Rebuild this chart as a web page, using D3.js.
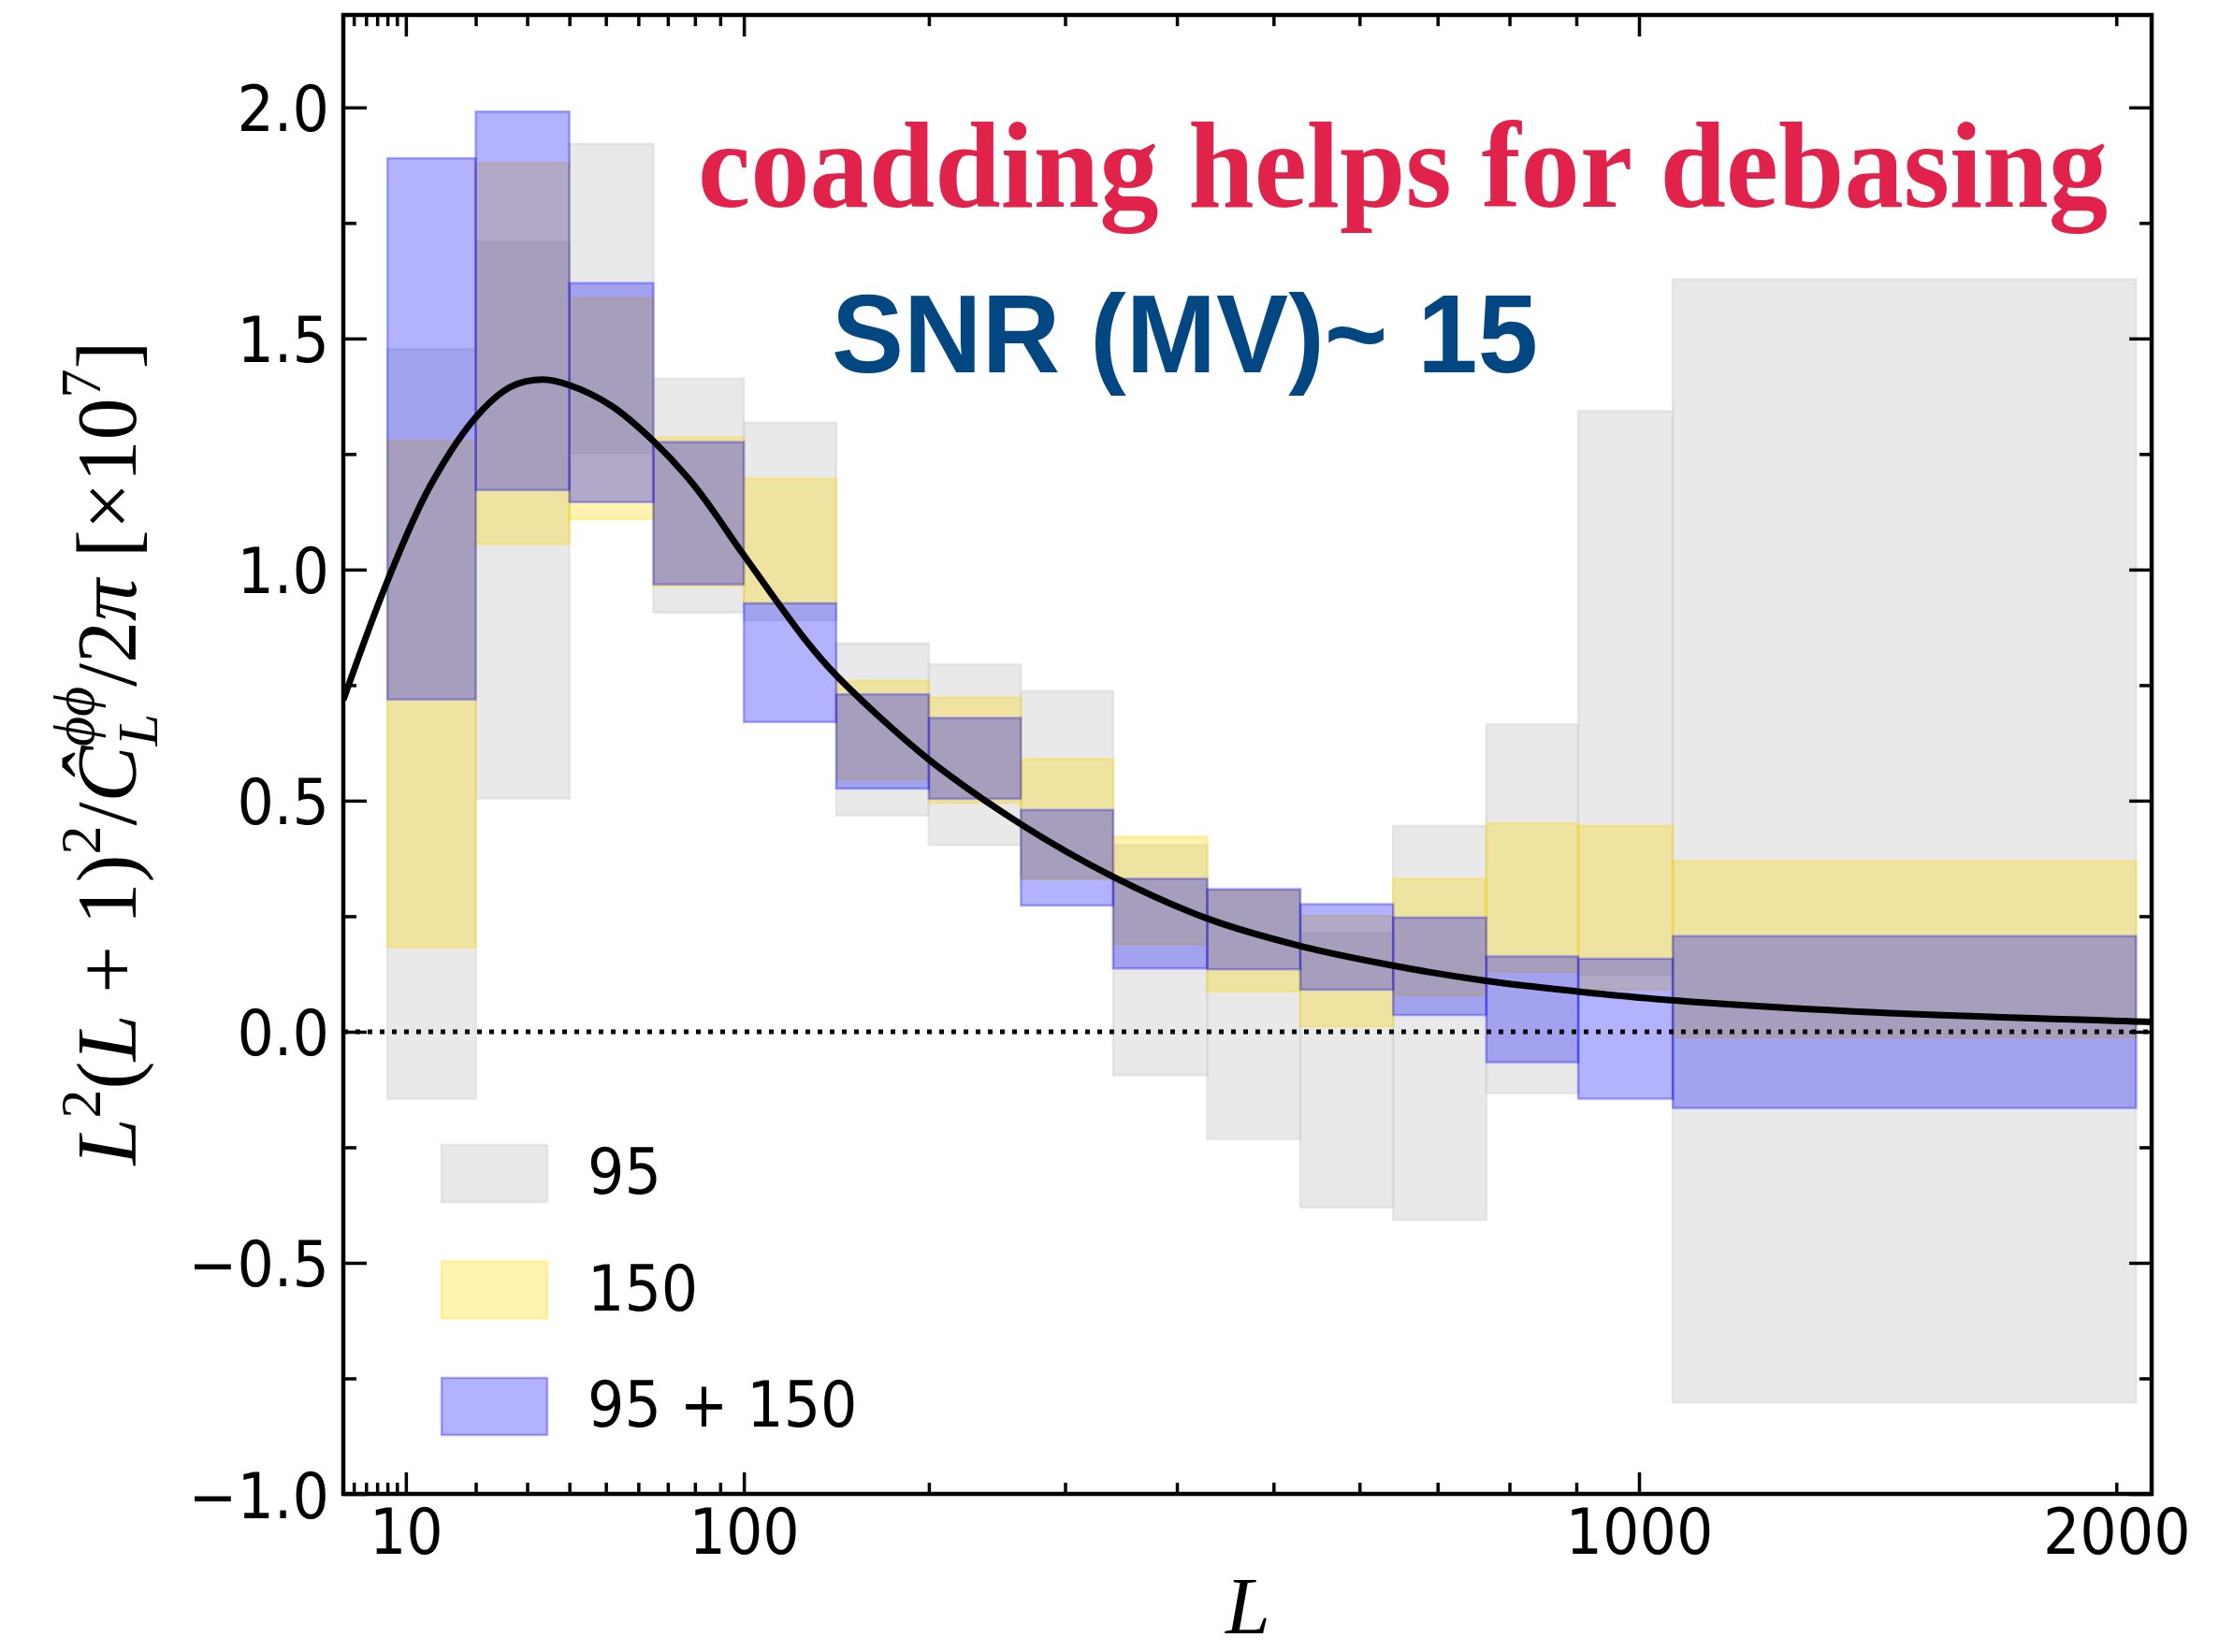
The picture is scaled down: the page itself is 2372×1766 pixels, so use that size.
<!DOCTYPE html>
<html><head><meta charset="utf-8">
<script src="https://cdn.jsdelivr.net/npm/d3@7"></script>
<style>body{margin:0;background:#fff}</style>
</head><body>
<svg id="chart" width="2372" height="1766"></svg>
<script>
// ---------------- data ----------------
const binEdges = [8, 20, 40, 65, 100, 145, 200, 265, 341, 430, 530, 642, 767, 903, 1058, 2050];

const grey95Low   = [-0.145, 0.505, 1.252, 0.907, 0.890, 0.468, 0.404, 0.333, -0.094, -0.232, -0.380, -0.407, -0.133, 0.123, -0.802];
const grey95High  = [ 1.477, 1.708, 1.921, 1.413, 1.318, 0.840, 0.795, 0.737,  0.404,  0.310,  0.213,  0.445,  0.665, 1.343,  1.628];

const yellow150Low  = [0.183, 1.055, 1.109, 0.964, 0.927, 0.547, 0.495, 0.330, 0.189, 0.087, 0.012, 0.079, 0.130, 0.091, -0.012];
const yellow150High = [1.278, 1.879, 1.587, 1.286, 1.197, 0.759, 0.723, 0.590, 0.422, 0.305, 0.251, 0.331, 0.451, 0.445,  0.369];

const blueCoaddLow  = [0.719, 1.172, 1.146, 0.968, 0.670, 0.526, 0.504, 0.273, 0.137, 0.135, 0.091, 0.036, -0.066, -0.145, -0.165];
const blueCoaddHigh = [1.890, 1.991, 1.620, 1.276, 0.927, 0.730, 0.679, 0.480, 0.331, 0.308, 0.276, 0.247,  0.163,  0.158,  0.207];

const theoryL     = [4.23, 8, 13, 20.4, 26.7, 33.5, 40, 51.5, 65, 80, 100, 128.5, 145, 200, 265, 342, 430, 529, 642, 766, 903, 1057, 1400, 2019, 2090];
const theoryValue = [0.718, 0.975, 1.18, 1.335, 1.396, 1.411, 1.399, 1.355, 1.278, 1.18, 1.031, 0.850, 0.771, 0.589, 0.449, 0.334, 0.245, 0.186, 0.143, 0.110, 0.087, 0.068, 0.044, 0.023, 0.021];

const xMajorTicks = [10, 100, 1000];
const xMinorTicks = [5, 6, 7, 8, 9, 20, 30, 40, 50, 60, 70, 80, 90, 200, 300, 400, 500, 600, 700, 800, 900, 2000];
const xTickLabels = [10, 100, 1000, 2000];
const yMajorTicks = [-1.0, -0.5, 0.0, 0.5, 1.0, 1.5, 2.0];
const yMinorTicks = [-0.75, -0.25, 0.25, 0.75, 1.25, 1.75];

const legendLabels = ["95", "150", "95 + 150"];

// ---------------- layout ----------------
const svg = d3.select("#chart");
const pL = 367, pR = 2300, pT = 16, pB = 1597;

// Axis is a power-like scale (exponent ~0.42), piecewise to follow the picture
const x = d3.scalePow().exponent(0.423)
  .domain([4.23, 1000, 2090])
  .range([pL, 1752, pR]);
const y = d3.scaleLinear().domain([-1, 2.2]).range([pB, pT]);

svg.append("defs").append("clipPath").attr("id", "plotclip")
  .append("rect").attr("x", pL).attr("y", pT).attr("width", pR - pL).attr("height", pB - pT);

const plot = svg.append("g").attr("clip-path", "url(#plotclip)");

const series = [
  {lo: grey95Low, hi: grey95High, color: "lightgrey", op: 0.5},
  {lo: yellow150Low, hi: yellow150High, color: "gold", op: 0.3},
  {lo: blueCoaddLow, hi: blueCoaddHigh, color: "blue", op: 0.3}
];

series.forEach(s => {
  const bins = s.lo.map((lo, i) => ({x0: binEdges[i], x1: binEdges[i + 1], lo, hi: s.hi[i]}));
  plot.append("g").selectAll("rect").data(bins).join("rect")
    .attr("x", d => x(d.x0))
    .attr("width", d => x(d.x1) - x(d.x0))
    .attr("y", d => y(d.hi))
    .attr("height", d => y(d.lo) - y(d.hi))
    .attr("fill", s.color).attr("fill-opacity", s.op)
    .attr("stroke", s.color).attr("stroke-opacity", s.op).attr("stroke-width", 2.5);
});

// zero dotted line
plot.append("line")
  .attr("x1", x(4.23)).attr("x2", x(2090))
  .attr("y1", y(0)).attr("y2", y(0))
  .attr("stroke", "#000").attr("stroke-width", 5)
  .attr("stroke-dasharray", "5,8");

// theory curve
const curveData = theoryL.map((L, i) => [L, theoryValue[i]]);
plot.append("path").datum(curveData)
  .attr("fill", "none").attr("stroke", "#000").attr("stroke-width", 7)
  .attr("stroke-linejoin", "round")
  .attr("d", d3.line().x(d => x(d[0])).y(d => y(d[1])).curve(d3.curveCatmullRom.alpha(0.5)));

// ---------------- axes ----------------
function tickStyle(g) {
  g.select(".domain").remove();
  g.selectAll("line").attr("stroke", "#000").attr("stroke-width", 3.5);
}
const noLabel = () => "";
svg.append("g").attr("transform", `translate(0,${pB})`)
  .call(d3.axisBottom(x).tickValues(xMajorTicks).tickSize(-23).tickFormat(noLabel)).call(tickStyle);
svg.append("g").attr("transform", `translate(0,${pB})`)
  .call(d3.axisBottom(x).tickValues(xMinorTicks).tickSize(-12).tickFormat(noLabel)).call(tickStyle);
svg.append("g").attr("transform", `translate(0,${pT})`)
  .call(d3.axisTop(x).tickValues(xMajorTicks).tickSize(-23).tickFormat(noLabel)).call(tickStyle);
svg.append("g").attr("transform", `translate(0,${pT})`)
  .call(d3.axisTop(x).tickValues(xMinorTicks).tickSize(-12).tickFormat(noLabel)).call(tickStyle);
svg.append("g").attr("transform", `translate(${pL},0)`)
  .call(d3.axisLeft(y).tickValues(yMajorTicks).tickSize(-25).tickFormat(noLabel)).call(tickStyle);
svg.append("g").attr("transform", `translate(${pL},0)`)
  .call(d3.axisLeft(y).tickValues(yMinorTicks).tickSize(-14).tickFormat(noLabel)).call(tickStyle);
svg.append("g").attr("transform", `translate(${pR},0)`)
  .call(d3.axisRight(y).tickValues(yMajorTicks).tickSize(-24).tickFormat(noLabel)).call(tickStyle);
svg.append("g").attr("transform", `translate(${pR},0)`)
  .call(d3.axisRight(y).tickValues(yMinorTicks).tickSize(-13).tickFormat(noLabel)).call(tickStyle);

// tick labels
svg.append("g").attr("transform", `translate(0,${pB})`)
  .call(d3.axisBottom(x).tickValues(xTickLabels).tickSize(0).tickFormat(d3.format("d")))
  .call(g => {
    g.select(".domain").remove();
    g.attr("font-family", "DejaVu Sans").attr("font-size", 62);
    g.selectAll("text").attr("y", null).attr("dy", null).attr("fill", "#000")
      .attr("transform", "translate(0,64) scale(1,1.08)");
  });
svg.append("g").attr("transform", `translate(${pL},0)`)
  .call(d3.axisLeft(y).tickValues(yMajorTicks).tickSize(0).tickPadding(15).tickFormat(d3.format(".1f")))
  .call(g => {
    g.select(".domain").remove();
    g.attr("font-family", "DejaVu Sans").attr("font-size", 62);
    g.selectAll("text").attr("dy", null).attr("fill", "#000")
      .attr("transform", "translate(0,25) scale(1,1.08)");
  });

// frame
svg.append("rect").attr("x", pL).attr("y", pT).attr("width", pR - pL).attr("height", pB - pT)
  .attr("fill", "none").attr("stroke", "#000").attr("stroke-width", 4.5);

// ---------------- legend ----------------
const legend = svg.append("g");
series.forEach((s, i) => {
  const ly = 1224 + i * 124.5;
  legend.append("rect").attr("x", 472).attr("y", ly).attr("width", 113).attr("height", 61)
    .attr("fill", s.color).attr("fill-opacity", s.op)
    .attr("stroke", s.color).attr("stroke-opacity", s.op).attr("stroke-width", 2.5);
  legend.append("text").attr("transform", `translate(628,${ly + 52}) scale(1,1.1)`)
    .attr("font-family", "DejaVu Sans").attr("font-size", 62).attr("fill", "#000")
    .text(legendLabels[i]);
});

// ---------------- axis titles ----------------
svg.append("text").attr("x", 1334).attr("y", 1746).attr("text-anchor", "middle")
  .attr("font-family", "Liberation Serif").attr("font-style", "italic").attr("font-size", 86)
  .text("L");

const F = 90, S = 62;
const yl = svg.append("text").attr("transform", "translate(145,805) rotate(-90)")
  .attr("text-anchor", "middle").attr("font-family", "Liberation Serif").attr("font-size", F).attr("fill", "#000");
const parts = [
  {t: "L", it: true},
  {t: "2", fs: S, dy: -0.42 * F},
  {t: "(", dy: 0.42 * F},
  {t: "L", it: true},
  {t: " + 1)"},
  {t: "2", fs: S, dy: -0.42 * F},
  {t: "/", dy: 0.42 * F},
  {t: "Ĉ", it: true},
  {t: "L", it: true, fs: S, dy: 0.25 * F},
  {t: "ϕϕ", it: true, fs: S, dx: -35, dy: -0.75 * F},
  {t: "/2", dy: 0.5 * F},
  {t: "π", it: true},
  {t: " [×10"},
  {t: "7", fs: S, dy: -0.42 * F},
  {t: "]", dy: 0.42 * F}
];
parts.forEach(p => {
  const ts = yl.append("tspan").text(p.t);
  if (p.it) ts.attr("font-style", "italic");
  if (p.fs) ts.attr("font-size", p.fs);
  if (p.dy) ts.attr("dy", p.dy);
  if (p.dx) ts.attr("dx", p.dx);
});

// ---------------- annotations ----------------
svg.append("text").attr("x", 746).attr("y", 221)
  .attr("font-family", "Liberation Serif").attr("font-weight", "bold").attr("font-size", 132)
  .attr("fill", "#e1224a").attr("textLength", 1507).attr("lengthAdjust", "spacingAndGlyphs")
  .text("coadding helps for debasing");
svg.append("text").attr("x", 889).attr("y", 398)
  .attr("font-family", "Liberation Sans").attr("font-weight", "bold").attr("font-size", 118)
  .attr("fill", "#024781").attr("textLength", 755).attr("lengthAdjust", "spacingAndGlyphs")
  .text("SNR (MV)~ 15");
</script>
</body></html>
